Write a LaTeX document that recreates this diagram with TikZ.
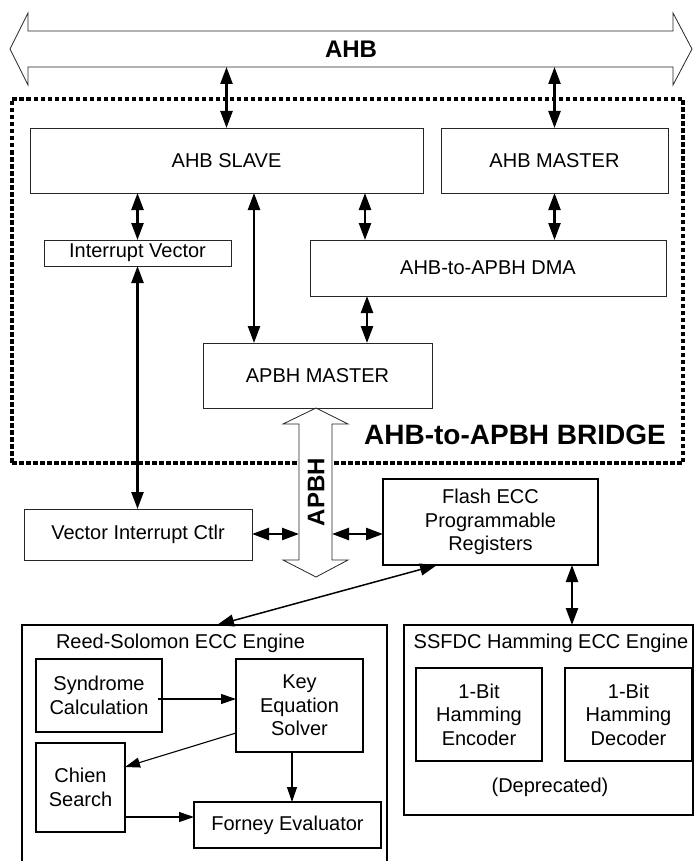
\documentclass[tikz,border=0pt]{standalone}
\usepackage{fontspec}
\setmainfont{Liberation Sans}
\usetikzlibrary{arrows.meta, calc}

\begin{document}
\begin{tikzpicture}[
  x=1pt, y=-1pt,
  blk/.style={draw=black!85, line width=0.8pt, inner sep=0pt, outer sep=0pt,
              align=center, font=\fontsize{20}{23.5}\selectfont},
  hblk/.style={blk, draw=black, line width=1.8pt},
  bus/.style={draw=black!85, line width=0.8pt, fill=white, line join=miter},
  link/.style={{Triangle[length=17pt,width=12pt]}-{Triangle[length=17pt,width=12pt]},
               line width=2.4pt},
  flow/.style={-{Triangle[length=15pt,width=10pt]}, line width=1.1pt},
  lbl/.style={font=\bfseries\fontsize{24}{28}\selectfont, inner sep=0pt}
]
\clip (0,0) rectangle (695,861);

% bridge outline
\node[draw, line width=3.4pt, dash pattern=on 4.5pt off 2.5pt, inner sep=0pt,
      minimum width=671pt, minimum height=364pt] (bridge) at (347.5,281) {};
\node[lbl, font=\bfseries\fontsize{28}{32}\selectfont] (bridgelbl) at (515,435)
    {AHB-to-APBH BRIDGE};

% AHB bus
\draw[bus] (10,49) -- (28,13) -- (28,31) -- (673,31) -- (673,13) -- (692,49)
    -- (673,85) -- (673,67) -- (28,67) -- (28,85) -- cycle;
\node[lbl] (ahblbl) at (351,49) {AHB};
\coordinate (ahbbot) at (0,67);

% APBH bus
\draw[bus] (316,408) -- (348,424) -- (332,424) -- (332,560) -- (348,560)
    -- (316,577) -- (283,560) -- (299,560) -- (299,424) -- (283,424) -- cycle;
\node[lbl, rotate=90] (apbhlbl) at (316,492) {APBH};
\coordinate (apbhl) at (299,534);
\coordinate (apbhr) at (332,534);

% blocks inside the bridge
\node[blk, minimum width=393pt, minimum height=65pt] (slave)  at (226.5,160.5) {AHB SLAVE};
\node[blk, minimum width=227pt, minimum height=65pt] (master) at (554.5,160.5) {AHB MASTER};
\node[blk, minimum width=187pt, minimum height=26pt] (intvec) at (137.5,253) {Interrupt Vector};
\node[blk, minimum width=356pt, minimum height=56pt] (dma)    at (488,268) {AHB-to-APBH DMA};
\node[blk, minimum width=229pt, minimum height=65pt] (apbhm)  at (317.5,375.5) {APBH MASTER};

% blocks outside
\node[blk, minimum width=228pt, minimum height=51pt] (vic)   at (138,534.5) {Vector Interrupt Ctlr};
\node[hblk, minimum width=215pt, minimum height=86pt] (flash) at (490.5,522)
    {Flash ECC\\Programmable\\Registers};

% Reed-Solomon engine
\node[hblk, minimum width=365pt, minimum height=254pt] (rs) at (204.5,752) {};
\node[blk, draw=none, anchor=west] (rstitle) at (56,643) {Reed-Solomon ECC Engine};
\node[hblk, minimum width=126pt, minimum height=73pt] (syn)    at (99,695.5) {Syndrome\\Calculation};
\node[hblk, minimum width=127pt, minimum height=93pt] (key)    at (299.5,705.5) {Key\\Equation\\Solver};
\node[hblk, minimum width=89pt, minimum height=89pt]  (chien)  at (80.5,787.5) {Chien\\Search};
\node[hblk, minimum width=187pt, minimum height=46pt] (forney) at (287.5,825) {Forney Evaluator};

% SSFDC engine
\node[hblk, minimum width=289pt, minimum height=190pt] (ssfdc) at (548.5,720) {};
\node[blk, draw=none] (ssfdctitle) at (551,643) {SSFDC Hamming ECC Engine};
\node[hblk, minimum width=126pt, minimum height=93pt] (enc) at (479,714.5) {1-Bit\\Hamming\\Encoder};
\node[hblk, minimum width=127pt, minimum height=93pt] (dec) at (628.5,714.5) {1-Bit\\Hamming\\Decoder};
\node[blk, draw=none] (depr) at (550,787) {(Deprecated)};

% bus connections
\draw[link] (slave.north) -- (slave.north |- ahbbot);
\draw[link] (master.north) -- (master.north |- ahbbot);
\draw[link] (intvec.north) -- (intvec.north |- slave.south);
\coordinate (s2a) at ([xshift=-63.5pt]apbhm.north);
\draw[link] (s2a |- slave.south) -- (s2a);
\coordinate (s2d) at ([xshift=55pt]dma.north west);
\draw[link] (s2d |- slave.south) -- (s2d);
\draw[link] (master.south) -- (master.south |- dma.north);
\coordinate (d2a) at ([xshift=49.5pt]apbhm.north);
\draw[link] (d2a |- dma.south) -- (d2a);
\draw[link] (intvec.south) -- (intvec.south |- vic.north);
\draw[link] (vic.east |- apbhl) -- (apbhl);
\draw[link] (apbhr) -- (flash.west |- apbhr);
\coordinate (f2s) at ([xshift=81.5pt]flash.south);
\draw[link] (f2s) -- (f2s |- ssfdc.north);
\draw[link, line width=1.5pt] ([xshift=-53.5pt]flash.south) -- ([xshift=12.5pt]rs.north);

% RS data path
\draw[flow] ([xshift=-4pt,yshift=-3.5pt]syn.east) -- ([yshift=-3.5pt]syn.east -| key.west);
\draw[flow] ([yshift=-27.5pt]key.west) -- ([yshift=20.5pt]chien.east);
\draw[flow] ([xshift=-7.5pt]key.south) -- ([xshift=-7.5pt]key.south |- forney.north);
\draw[flow] ([yshift=-29.5pt]chien.east) -- ([yshift=-29.5pt]chien.east -| forney.west);
\end{tikzpicture}
\end{document}
